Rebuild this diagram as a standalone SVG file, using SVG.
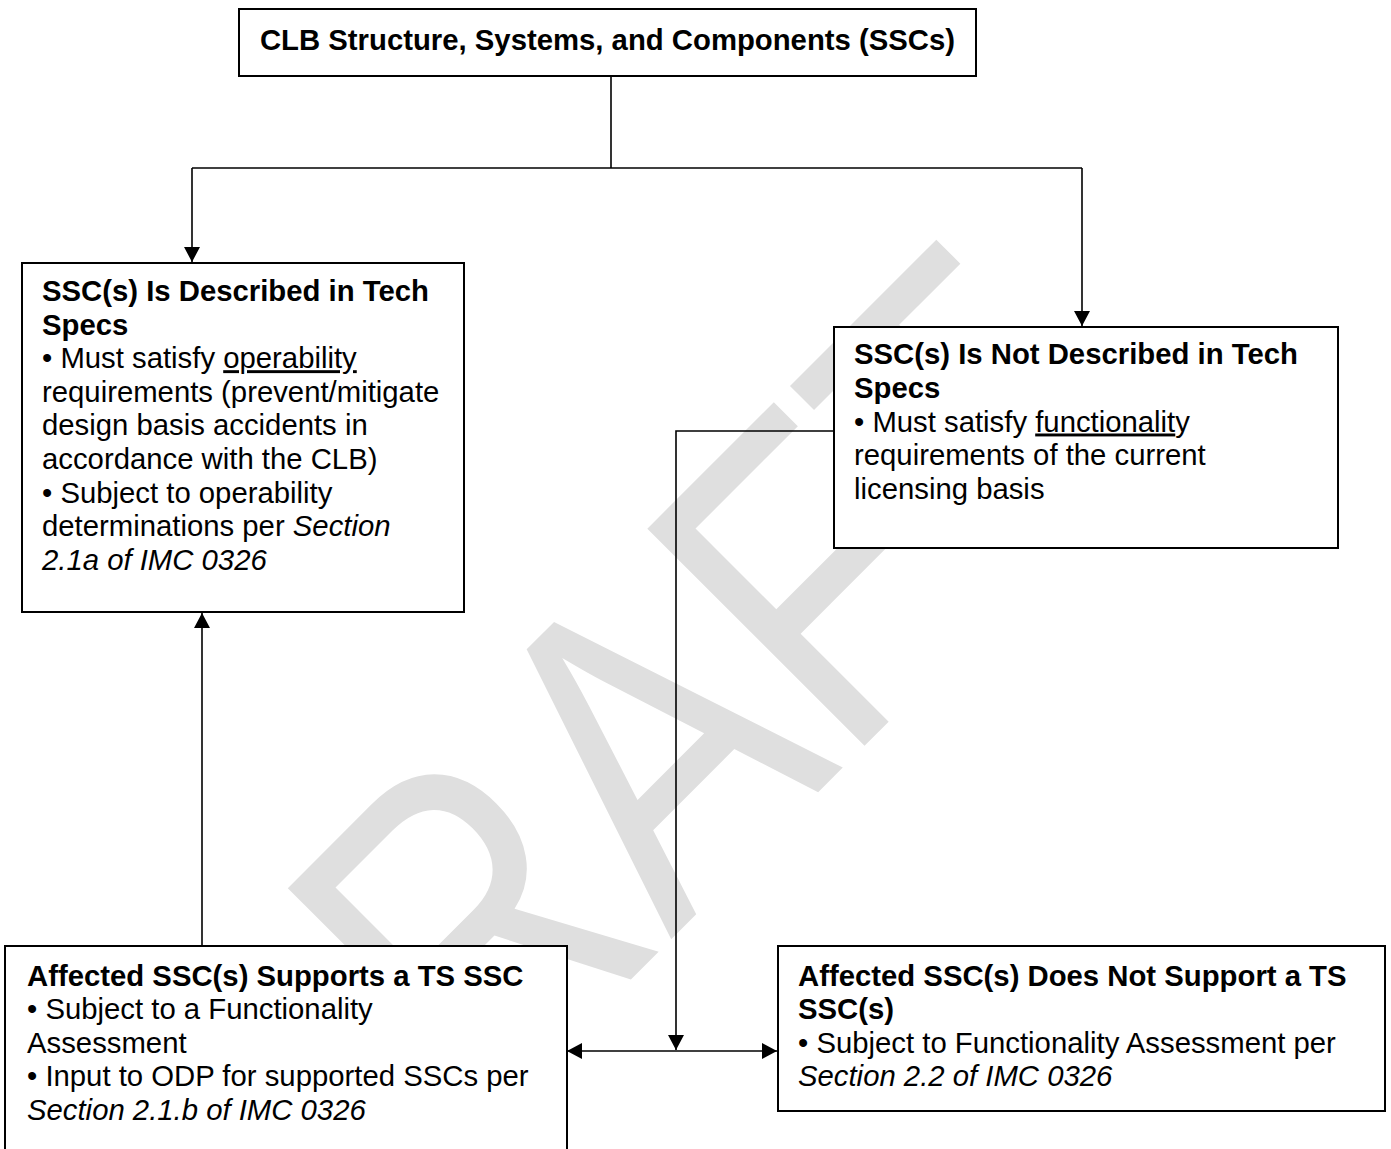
<svg xmlns="http://www.w3.org/2000/svg" width="1391" height="1149" viewBox="0 0 1391 1149">
<style>
  .box { fill: #ffffff; stroke: #000000; stroke-width: 2; }
  .t { font-family: "Liberation Sans", Arial, sans-serif; font-size: 29.3px; fill: #000000; }
  .b { font-weight: bold; }
  .i { font-style: italic; }
  .u { text-decoration: underline; }
  .conn { fill: none; stroke: #000000; stroke-width: 1.6; }
  .wm { font-family: "Liberation Sans", Arial, sans-serif; font-size: 366px; fill: #dfdfdf; }
</style>
<defs>
  <marker id="arrow" markerUnits="userSpaceOnUse" markerWidth="16" markerHeight="16" refX="15" refY="8" orient="auto-start-reverse">
    <path d="M0,0 L15,8 L0,16 z" fill="#000000"/>
  </marker>
</defs>
<rect x="0" y="0" width="1391" height="1149" fill="#ffffff"/>

<g id="watermark">
  <text class="wm" transform="translate(296.9,1313.5) rotate(-45) scale(1,1.22)" x="0" y="0">DRAFT</text>
</g>

<g id="node-clb">
  <rect class="box" x="239" y="9" width="737" height="67"/>
  <text class="t b" x="607.5" y="50" text-anchor="middle">CLB Structure, Systems, and Components (SSCs)</text>
</g>

<g id="node-ts">
  <rect class="box" x="22" y="263" width="442" height="349"/>
  <text class="t" x="42" y="301"><tspan class="b">SSC(s) Is Described in Tech</tspan></text>
  <text class="t" x="42" y="334.6"><tspan class="b">Specs</tspan></text>
  <text class="t" x="42" y="368.2">• Must satisfy <tspan class="u">operability</tspan></text>
  <text class="t" x="42" y="401.8">requirements (prevent/mitigate</text>
  <text class="t" x="42" y="435.4">design basis accidents in</text>
  <text class="t" x="42" y="469">accordance with the CLB)</text>
  <text class="t" x="42" y="502.6">• Subject to operability</text>
  <text class="t" x="42" y="536.2">determinations per <tspan class="i">Section</tspan></text>
  <text class="t i" x="42" y="569.8">2.1a of IMC 0326</text>
</g>

<g id="node-nts">
  <rect class="box" x="834" y="327" width="504" height="221"/>
  <text class="t b" x="854" y="364.3">SSC(s) Is Not Described in Tech</text>
  <text class="t b" x="854" y="397.9">Specs</text>
  <text class="t" x="854" y="431.5">• Must satisfy <tspan class="u">functionalit</tspan>y</text>
  <text class="t" x="854" y="465.1">requirements of the current</text>
  <text class="t" x="854" y="498.7">licensing basis</text>
</g>

<g id="node-supports">
  <rect class="box" x="5" y="946" width="562" height="215"/>
  <text class="t b" x="27" y="985.5">Affected SSC(s) Supports a TS SSC</text>
  <text class="t" x="27" y="1019.1">• Subject to a Functionality</text>
  <text class="t" x="27" y="1052.7">Assessment</text>
  <text class="t" x="27" y="1086.3">• Input to ODP for supported SSCs per</text>
  <text class="t i" x="27" y="1119.9">Section 2.1.b of IMC 0326</text>
</g>

<g id="node-notsupports">
  <rect class="box" x="778" y="946" width="607" height="165"/>
  <text class="t b" x="798" y="985.5">Affected SSC(s) Does Not Support a TS</text>
  <text class="t b" x="798" y="1019.1">SSC(s)</text>
  <text class="t" x="798" y="1052.7">• Subject to Functionality Assessment per</text>
  <text class="t i" x="798" y="1086.3">Section 2.2 of IMC 0326</text>
</g>

<g id="connectors">
  <path class="conn" d="M611,76 V168"/>
  <path class="conn" d="M192,168 H1082"/>
  <path class="conn" d="M192,168 V262" marker-end="url(#arrow)"/>
  <path class="conn" d="M1082,168 V326" marker-end="url(#arrow)"/>
  <path class="conn" d="M202,945 V613" marker-end="url(#arrow)"/>
  <path class="conn" d="M834,431 H676 V1050" marker-end="url(#arrow)"/>
  <path class="conn" d="M567,1051 H777" marker-start="url(#arrow)" marker-end="url(#arrow)"/>
</g>
</svg>
